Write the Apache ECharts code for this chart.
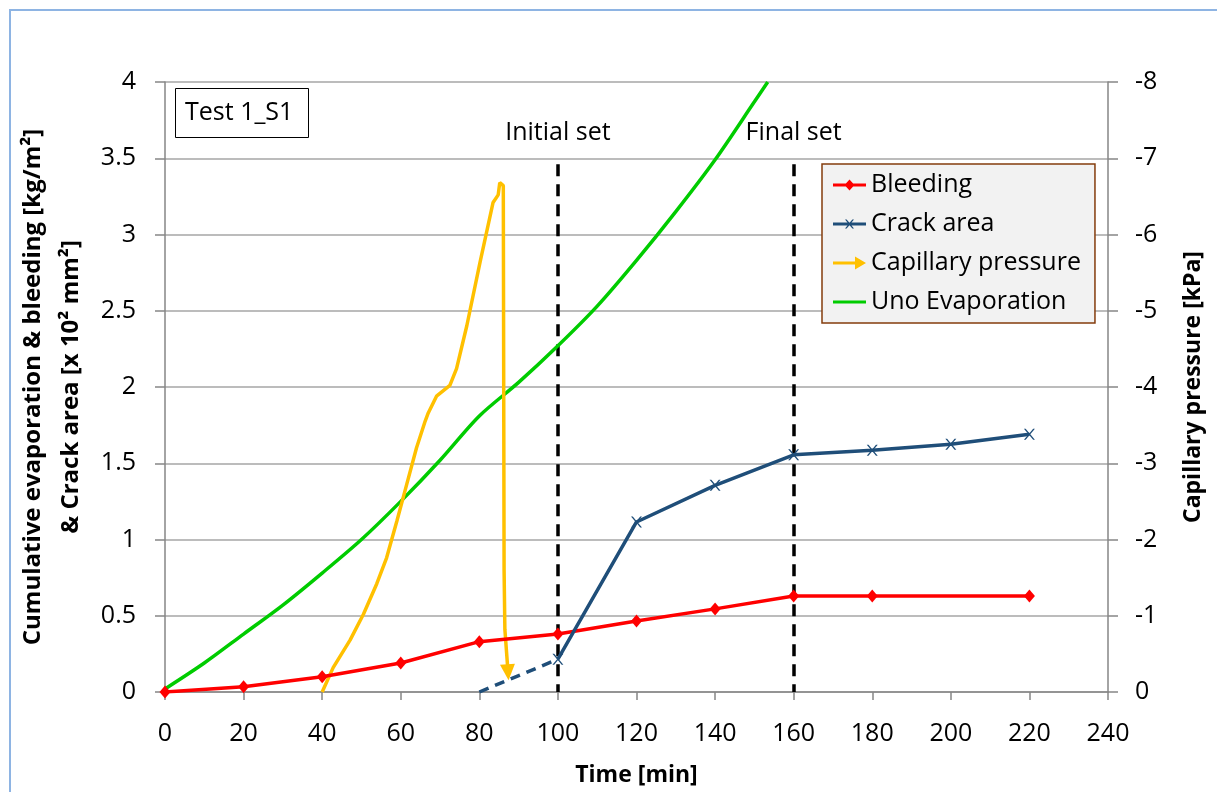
<!DOCTYPE html>
<html><head><meta charset="utf-8">
<script src="https://cdn.jsdelivr.net/npm/echarts@6/dist/echarts.min.js"></script>
<style>html,body{margin:0;padding:0;background:#fff}#c{width:1217px;height:792px}</style>
</head><body><div id="c"></div>
<script>
// ---- data ----
const bleedTime = [0, 20, 40, 60, 80, 100, 120, 140, 160, 180, 220];
const bleedVal  = [0, 0.035, 0.10, 0.19, 0.33, 0.38, 0.465, 0.545, 0.63, 0.63, 0.63];

const crackTime = [100, 120, 140, 160, 180, 200, 220];
const crackVal  = [0.215, 1.115, 1.355, 1.555, 1.585, 1.625, 1.69];
const crackDashTime = [80, 100];
const crackDashVal  = [0, 0.215];

const capTime = [40, 42.8, 47.1, 50.5, 53.9, 56.4, 59.0, 61.5, 64.0, 66.2, 67.0, 69.1, 72.5, 74.2, 76.8, 80.2, 83.5, 84.8, 85.2, 86.1, 86.3, 86.5, 87.3];
const capVal  = [0, -0.32, -0.68, -1.02, -1.42, -1.76, -2.24, -2.72, -3.20, -3.55, -3.66, -3.88, -4.02, -4.24, -4.80, -5.64, -6.42, -6.52, -6.68, -6.64, -1.6, -0.82, -0.26];

const evapTime = [0, 10, 20, 30, 40, 50, 60, 70, 80, 90, 100, 110, 120, 130, 140, 150, 153.4];
const evapVal  = [0.02, 0.19, 0.38, 0.57, 0.78, 1.0, 1.25, 1.52, 1.81, 2.03, 2.27, 2.53, 2.83, 3.15, 3.49, 3.87, 4.0];

const setTimes  = [100, 160];
const setLabels = ['Initial set', 'Final set'];
const setTop = 3.46;

const leftTicks  = {min: 0, max: 4, interval: 0.5};
const rightTicks = {min: -8, max: 0, interval: 1};
const xTicks     = {min: 0, max: 240, interval: 20};

const seriesNames = ['Bleeding', 'Crack area', 'Capillary pressure', 'Uno Evaporation'];
const boxLabel = 'Test 1_S1';

// ---- chart ----
const FONT = '"Open Sans"';
const zip = (a, b) => a.map((t, i) => [t, b[i]]);
const C = {red: '#ff0000', blue: '#1f4e79', yellow: '#ffc000', green: '#00cc00'};
const corner = 'M0,0L0.01,0L0,0.01Z M33,14L32.99,14L33,13.99Z ';
const lineBar = 'M0,5.5L33,5.5L33,8.5L0,8.5Z ';
const icons = {
  bleed: 'path://' + corner + lineBar + 'M16.5,1.5L21.5,7L16.5,12.5L11.5,7Z',
  crack: 'path://' + corner + lineBar + 'M12,2.5L13.6,2.5L16.5,5.8L19.4,2.5L21,2.5L17.3,7L21,11.5L19.4,11.5L16.5,8.2L13.6,11.5L12,11.5L15.7,7Z',
  cap: 'path://' + corner + 'M0,5.5L24,5.5L24,8.5L0,8.5Z M22,0.5L33,7L22,13.5Z',
  evap: 'path://' + corner + lineBar
};
const xSymbol = 'path://M0,0L1.6,0L5,4.1L8.4,0L10,0L5.8,5L10,10L8.4,10L5,5.9L1.6,10L0,10L4.2,5Z';

const capData = zip(capTime, capVal).map((p, i, arr) =>
  i === arr.length - 1 ? {value: p, symbol: 'triangle', symbolSize: [15, 16], symbolRotate: 184} : p);

const axisLabel = {color: '#000', fontFamily: FONT, fontSize: 25};
const nameStyle = {color: '#000', fontFamily: FONT, fontSize: 23, fontWeight: 'bold'};
const LW = 3.5;

const chart = echarts.init(document.getElementById('c'), null, {renderer: 'canvas'});
chart.setOption({
  animation: false,
  backgroundColor: '#fff',
  grid: {left: 165, right: 109, top: 82, bottom: 97, containLabel: false},
  graphic: [
    {type: 'rect', shape: {x: 10, y: 10, width: 1400, height: 1000}, style: {fill: 'none', stroke: '#8eb4e3', lineWidth: 2}, silent: true, z: -10},
    {type: 'rect', shape: {x: 175.5, y: 88.5, width: 133, height: 49}, style: {fill: '#fff', stroke: '#000', lineWidth: 1}, z: 10},
    {type: 'text', x: 185, y: 113, style: {text: boxLabel, fill: '#000', font: '25px ' + FONT, verticalAlign: 'middle'}, z: 11}
  ],
  legend: {
    left: 822, top: 164, orient: 'vertical',
    itemWidth: 33, itemHeight: 14, itemGap: 11,
    padding: [7, 14, 7, 11],
    backgroundColor: '#f2f2f2', borderColor: '#843c0c', borderWidth: 1.5,
    textStyle: {fontFamily: FONT, fontSize: 25, color: '#000', lineHeight: 28},
    itemStyle: {borderWidth: 0},
    data: [
      {name: seriesNames[0], icon: icons.bleed},
      {name: seriesNames[1], icon: icons.crack},
      {name: seriesNames[2], icon: icons.cap},
      {name: seriesNames[3], icon: icons.evap}
    ]
  },
  xAxis: {
    type: 'value', ...xTicks,
    name: 'Time [min]', nameLocation: 'middle', nameGap: 72, nameTextStyle: nameStyle,
    axisLine: {show: true, onZero: false, lineStyle: {color: '#868686', width: 1.5}},
    axisTick: {show: true, inside: false, length: 8, lineStyle: {color: '#868686', width: 1.5}},
    axisLabel: {...axisLabel, margin: 29},
    splitLine: {show: false}
  },
  yAxis: [
    {
      type: 'value', ...leftTicks,
      name: 'Cumulative evaporation & bleeding [kg/m²]\n& Crack area [x 10² mm²]',
      nameLocation: 'middle', nameGap: 60,
      nameTextStyle: {...nameStyle, fontSize: 24, lineHeight: 38},
      axisLine: {show: true, lineStyle: {color: '#868686', width: 1.5}},
      axisTick: {show: true, inside: false, length: 10, lineStyle: {color: '#868686', width: 1.5}},
      axisLabel: {...axisLabel, margin: 29},
      splitLine: {show: true, lineStyle: {color: '#a6a6a6', width: 1.5}}
    },
    {
      type: 'value', ...rightTicks, inverse: true, position: 'right',
      name: 'Capillary pressure [kPa]', nameLocation: 'middle', nameGap: 74, nameRotate: 90,
      nameTextStyle: nameStyle,
      axisLine: {show: true, lineStyle: {color: '#868686', width: 1.5}},
      axisTick: {show: true, inside: false, length: 10, lineStyle: {color: '#868686', width: 1.5}},
      axisLabel: {...axisLabel, margin: 27},
      splitLine: {show: false}
    }
  ],
  series: [
    {
      name: seriesNames[3], type: 'line', data: zip(evapTime, evapVal), smooth: 0.3,
      symbol: 'none', color: C.green, lineStyle: {width: LW, color: C.green}, z: 3
    },
    {
      name: seriesNames[2], type: 'line', yAxisIndex: 1, data: capData,
      symbol: 'none', showSymbol: true, color: C.yellow, itemStyle: {color: C.yellow},
      lineStyle: {width: LW, color: C.yellow}, z: 4
    },
    {
      name: seriesNames[0], type: 'line', data: zip(bleedTime, bleedVal),
      symbol: 'diamond', symbolSize: [11, 13], color: C.red, itemStyle: {color: C.red, borderWidth: 0},
      lineStyle: {width: LW, color: C.red}, z: 5,
      markLine: {
        silent: true, symbol: ['none', 'none'], z: 2,
        lineStyle: {color: '#000', type: [12, 8], width: 3.5},
        label: {show: true, position: 'start', formatter: '{b}', color: '#000', fontFamily: FONT, fontSize: 25, distance: 19},
        data: setTimes.map((t, i) => [{name: setLabels[i], coord: [t, setTop]}, {coord: [t, 0]}])
      }
    },
    {
      name: 'crack-dashed', type: 'line', data: zip(crackDashTime, crackDashVal),
      symbol: 'none', color: C.blue, lineStyle: {width: LW, color: C.blue, type: [10, 7]}, z: 5
    },
    {
      name: seriesNames[1], type: 'line', data: zip(crackTime, crackVal),
      symbol: xSymbol, symbolSize: 11, color: C.blue, itemStyle: {color: C.blue, borderWidth: 0},
      lineStyle: {width: LW, color: C.blue}, z: 6
    }
  ]
});
</script>
</body></html>
